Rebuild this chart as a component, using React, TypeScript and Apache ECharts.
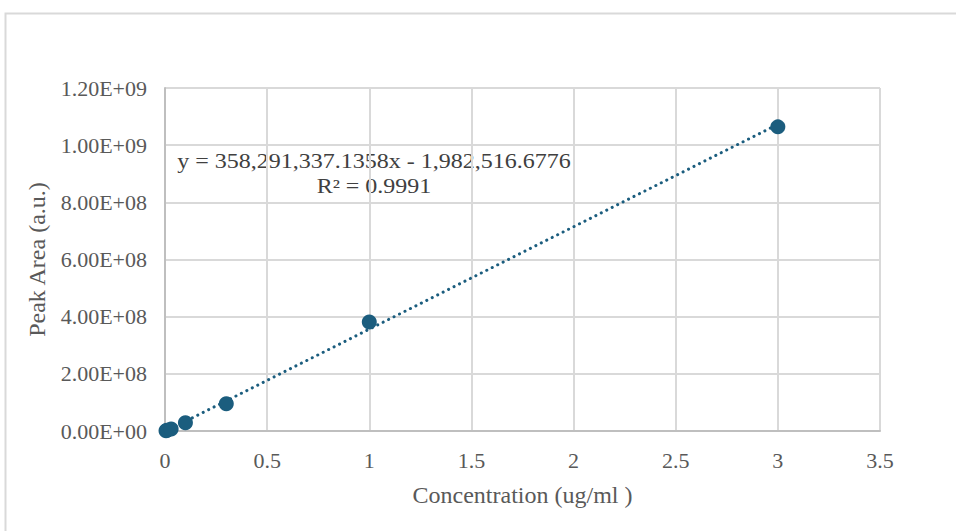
import React, { useEffect, useRef } from "react";
import * as echarts from "echarts";

const concentrations = [0.005, 0.01, 0.03, 0.1, 0.3, 1, 3];
const peakAreas = [1.0e6, 3.0e6, 7.0e6, 2.9e7, 9.5e7, 3.81e8, 1.064e9];
const slope = 358291337.1358;
const intercept = -1982516.6776;
const trendX = [0, 3];
const equationLines = ["y = 358,291,337.1358x - 1,982,516.6776", "R² = 0.9991"];

const fmtSci = (v: number) => {
  if (v === 0) return "0.00E+00";
  const [m, e] = v.toExponential(2).split("e");
  const n = parseInt(e, 10);
  const sign = n < 0 ? "-" : "+";
  const abs = Math.abs(n);
  return `${m}E${sign}${abs < 10 ? "0" + abs : abs}`;
};

const FONT = "Liberation Serif";
const COLOR = "#1b5d7e";

export default function App() {
  const ref = useRef<HTMLDivElement>(null);
  useEffect(() => {
    document.body.style.margin = "0";
    const chart = echarts.init(ref.current!, null, { renderer: "svg" });
    chart.setOption({
      animation: false,
      backgroundColor: "#ffffff",
      textStyle: { fontFamily: FONT },
      grid: { left: 165, right: 76, top: 88, bottom: 100 },
      xAxis: {
        type: "value",
        min: 0,
        max: 3.5,
        interval: 0.5,
        name: "Concentration (ug/ml )",
        nameLocation: "middle",
        nameGap: 52,
        nameTextStyle: { fontFamily: FONT, fontSize: 24, color: "#595959" },
        axisLine: { show: true, lineStyle: { color: "#bfbfbf", width: 2 } },
        axisTick: { show: false },
        axisLabel: { fontFamily: FONT, fontSize: 22, color: "#595959", margin: 18 },
        splitLine: { show: true, lineStyle: { color: "#d9d9d9", width: 2 } },
      },
      yAxis: {
        type: "value",
        min: 0,
        max: 1.2e9,
        interval: 2e8,
        name: "Peak Area (a.u.)",
        nameLocation: "middle",
        nameGap: 116,
        nameTextStyle: { fontFamily: FONT, fontSize: 24, color: "#595959" },
        axisLine: { show: true, lineStyle: { color: "#bfbfbf", width: 2 } },
        axisTick: { show: false },
        axisLabel: { fontFamily: FONT, fontSize: 22, color: "#595959", margin: 18, formatter: fmtSci },
        splitLine: { show: true, lineStyle: { color: "#d9d9d9", width: 2 } },
      },
      series: [
        {
          type: "line",
          data: trendX.map((x) => [x, slope * x + intercept]),
          showSymbol: false,
          symbol: "none",
          lineStyle: { color: COLOR, width: 3, type: [0.1, 6], cap: "round" },
          z: 2,
        },
        {
          type: "scatter",
          data: concentrations.map((x, i) => [x, peakAreas[i]]),
          symbolSize: 15,
          itemStyle: { color: COLOR, opacity: 1 },
          z: 3,
        },
      ],
      graphic: [
        {
          type: "rect",
          shape: { x: 5.5, y: 13.5, width: 1200, height: 800 },
          style: { fill: "none", stroke: "#d9d9d9", lineWidth: 2 },
          z: -1,
          silent: true,
        },
        {
          type: "text",
          x: 374,
          y: 161,
          scaleX: 1.2,
          style: {
            text: equationLines[0],
            font: `20px "${FONT}"`,
            fill: "#404040",
            textAlign: "center",
            textVerticalAlign: "middle",
          },
        },
        {
          type: "text",
          x: 374,
          y: 186,
          scaleX: 1.2,
          style: {
            text: equationLines[1],
            font: `20px "${FONT}"`,
            fill: "#404040",
            textAlign: "center",
            textVerticalAlign: "middle",
          },
        },
      ],
    });
    return () => chart.dispose();
  }, []);
  return <div ref={ref} style={{ width: 956, height: 531 }} />;
}
